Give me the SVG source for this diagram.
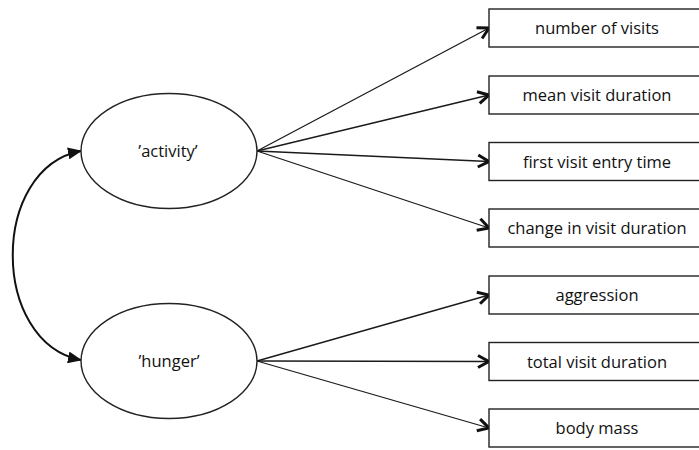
<svg xmlns="http://www.w3.org/2000/svg" width="699" height="450" viewBox="0 0 699 450">
  <style>
    .node { fill: #ffffff; stroke: #222222; stroke-width: 1.4; }
    .label { font-family: "Open Sans", "Liberation Sans", sans-serif; font-size: 16.5px; fill: #111111; text-anchor: middle; }
    .edge { fill: none; stroke: #1a1a1a; stroke-width: 1.3; }
    .corr { fill: none; stroke: #111111; stroke-width: 2; }
  </style>
  <defs>
    <marker id="open" viewBox="0 0 16 16" refX="14" refY="8" markerWidth="16" markerHeight="16" markerUnits="userSpaceOnUse" orient="auto">
      <path d="M 3 2 L 14 8 L 3 14" fill="none" stroke="#111111" stroke-width="3" stroke-linejoin="miter"/>
    </marker>
    <marker id="solid" viewBox="0 0 14 12" refX="13" refY="6" markerWidth="14" markerHeight="12" markerUnits="userSpaceOnUse" orient="auto-start-reverse">
      <path d="M 0 0 L 14 6 L 0 12 Z" fill="#111111"/>
    </marker>
  </defs>

  <!-- connectors -->
  <g id="connectors">
    <path class="corr" d="M 81 151 C -10 168, -10 342, 81 360" marker-start="url(#solid)" marker-end="url(#solid)"/>
    <line class="edge" x1="257" y1="151" x2="489" y2="28" marker-end="url(#open)"/>
    <line class="edge" x1="257" y1="151" x2="489" y2="95" marker-end="url(#open)"/>
    <line class="edge" x1="257" y1="151" x2="489" y2="161.5" marker-end="url(#open)"/>
    <line class="edge" x1="257" y1="151" x2="489" y2="228" marker-end="url(#open)"/>
    <line class="edge" x1="257" y1="361" x2="489" y2="295" marker-end="url(#open)"/>
    <line class="edge" x1="257" y1="361" x2="489" y2="361.5" marker-end="url(#open)"/>
    <line class="edge" x1="257" y1="361" x2="489" y2="428" marker-end="url(#open)"/>
  </g>

  <g id="activity">
    <ellipse class="node" cx="169" cy="151" rx="88" ry="57.5"/>
    <text class="label" x="168" y="157">’activity’</text>
  </g>
  <g id="hunger">
    <ellipse class="node" cx="169" cy="361" rx="88" ry="57.5"/>
    <text class="label" x="169" y="367">’hunger’</text>
  </g>

  <g id="number-of-visits">
    <rect class="node" x="489" y="9" width="215" height="38"/>
    <text class="label" x="597" y="34">number of visits</text>
  </g>
  <g id="mean-visit-duration">
    <rect class="node" x="489" y="76" width="215" height="38"/>
    <text class="label" x="597" y="101">mean visit duration</text>
  </g>
  <g id="first-visit-entry-time">
    <rect class="node" x="489" y="142.5" width="215" height="38"/>
    <text class="label" x="597" y="167.5">first visit entry time</text>
  </g>
  <g id="change-in-visit-duration">
    <rect class="node" x="489" y="209" width="215" height="38"/>
    <text class="label" x="597" y="234">change in visit duration</text>
  </g>
  <g id="aggression">
    <rect class="node" x="489" y="276" width="215" height="38"/>
    <text class="label" x="597" y="301">aggression</text>
  </g>
  <g id="total-visit-duration">
    <rect class="node" x="489" y="342.5" width="215" height="38"/>
    <text class="label" x="597" y="367.5">total visit duration</text>
  </g>
  <g id="body-mass">
    <rect class="node" x="489" y="409" width="215" height="38"/>
    <text class="label" x="597" y="434">body mass</text>
  </g>
</svg>
